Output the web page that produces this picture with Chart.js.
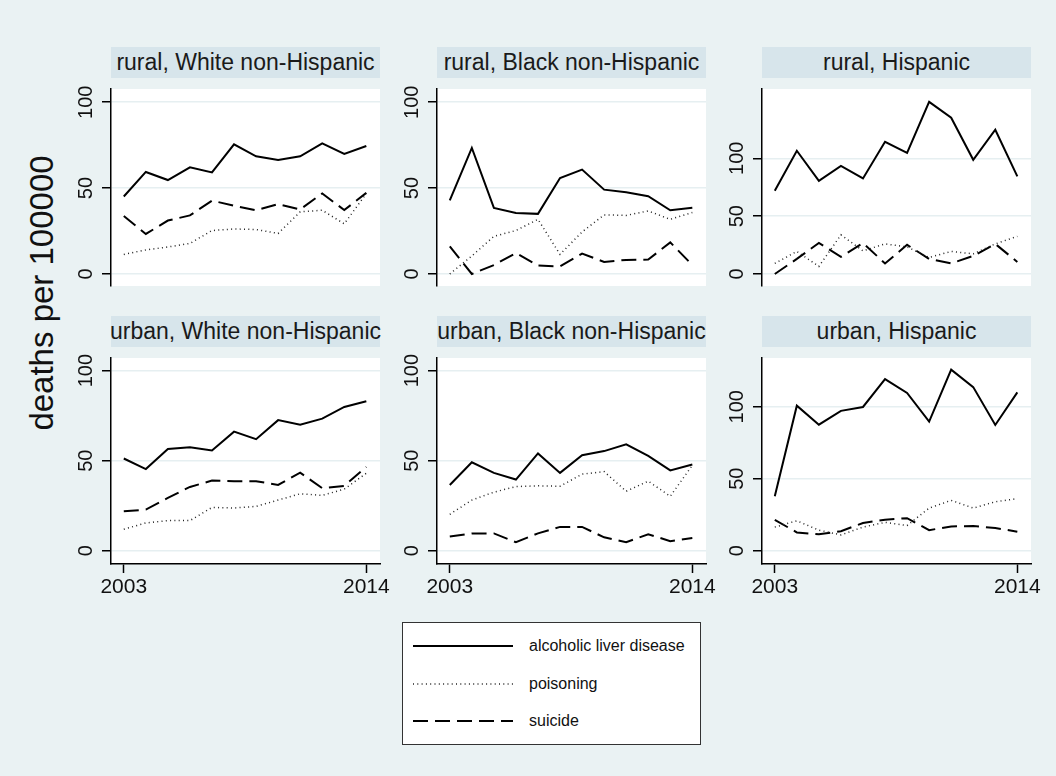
<!DOCTYPE html>
<html>
<head>
<meta charset="utf-8">
<script src="https://cdn.jsdelivr.net/npm/chart.js@4.4.0/dist/chart.umd.min.js"></script>
<style>
  html, body { margin: 0; padding: 0; }
  body { width: 1056px; height: 776px; overflow: hidden; font-family: "Liberation Sans", Arial, sans-serif; }
  #page { position: absolute; left: 0; top: 0; width: 1056px; height: 776px; background: #eaf2f3; }
  .strip { position: absolute; height: 31px; background: #d7e5eb; color: #1a1a1a;
           font-size: 23px; display: flex; justify-content: center; align-items: center; white-space: nowrap; }
  .panel { position: absolute; }
  #ytitle { position: absolute; left: 42px; top: 293px; transform: translate(-50%, -50%) rotate(-90deg);
            font-size: 33px; color: #111; white-space: nowrap; }
  #legend { position: absolute; left: 402px; top: 622px; width: 297px; height: 121px;
            border: 1.5px solid #333; background: #fff; }
  .lg-row { position: absolute; left: 0; height: 20px; }
  .lg-row svg { position: absolute; left: 10px; top: 0; }
  .lg-row span { position: absolute; left: 126px; top: 0; line-height: 20px; font-size: 16px; color: #111; white-space: nowrap; }
</style>
</head>
<body>
<div id="page">
  <div id="ytitle">deaths per 100000</div>
  <div id="legend"></div>
</div>
<script>
// Years on the x axis and the two labelled ticks
const years = [2003, 2004, 2005, 2006, 2007, 2008, 2009, 2010, 2011, 2012, 2013, 2014];
const xTickValues = [2003, 2014];
const yTickValues = [0, 50, 100];
const causes = ['alcoholic liver disease', 'poisoning', 'suicide'];
const groupTitles = [
  'rural, White non-Hispanic', 'rural, Black non-Hispanic', 'rural, Hispanic',
  'urban, White non-Hispanic', 'urban, Black non-Hispanic', 'urban, Hispanic'
];

// deaths per 100000, by cause
const ruralWhiteLiver     = [45.1, 59.4, 54.7, 62.1, 59.1, 75.5, 68.5, 66.3, 68.5, 76.0, 69.9, 74.5];
const ruralWhitePoisoning = [11.4, 14.0, 15.7, 17.8, 25.3, 26.2, 25.9, 23.6, 36.2, 37.1, 29.2, 46.9];
const ruralWhiteSuicide   = [33.7, 23.3, 31.1, 34.1, 42.7, 39.7, 37.1, 40.7, 37.6, 46.9, 37.2, 47.2];

const ruralBlackLiver     = [42.8, 73.4, 38.5, 35.5, 35.0, 55.9, 60.8, 49.1, 47.6, 45.3, 37.1, 38.5];
const ruralBlackPoisoning = [0.0, 10.5, 21.9, 25.3, 31.8, 11.4, 24.5, 34.4, 34.1, 36.7, 31.8, 35.8];
const ruralBlackSuicide   = [16.0, 0.0, 5.2, 12.2, 4.9, 4.4, 11.9, 7.0, 8.2, 8.4, 18.4, 5.2];

const ruralHispLiver      = [71.9, 106.5, 80.5, 93.5, 82.6, 114.3, 104.7, 148.8, 135.1, 98.7, 124.7, 84.4];
const ruralHispPoisoning  = [9.1, 19.5, 6.5, 33.8, 20.0, 26.0, 23.4, 14.3, 19.5, 17.4, 26.0, 32.5];
const ruralHispSuicide    = [0.0, 13.0, 26.8, 14.8, 26.8, 9.1, 25.2, 13.0, 9.1, 15.6, 26.0, 10.4];

const urbanWhiteLiver     = [51.2, 45.3, 56.5, 57.4, 55.6, 66.1, 61.9, 72.5, 70.0, 73.3, 79.8, 83.0];
const urbanWhitePoisoning = [11.9, 15.4, 16.7, 16.7, 24.0, 23.7, 24.6, 28.1, 31.6, 30.7, 34.2, 43.0];
const urbanWhiteSuicide   = [21.9, 22.8, 29.3, 35.4, 38.9, 38.6, 38.6, 36.5, 43.3, 34.7, 36.0, 46.5];

const urbanBlackLiver     = [36.5, 49.1, 43.2, 39.5, 54.0, 43.2, 53.0, 55.3, 59.1, 52.6, 44.6, 47.9];
const urbanBlackPoisoning = [20.2, 28.1, 32.5, 35.6, 36.0, 35.8, 42.5, 43.9, 33.0, 38.6, 30.2, 47.4];
const urbanBlackSuicide   = [7.9, 9.6, 9.6, 4.7, 9.6, 13.2, 13.2, 7.4, 4.7, 9.1, 5.3, 7.0];

const urbanHispLiver      = [37.8, 100.7, 87.5, 97.1, 99.8, 119.1, 109.5, 89.7, 125.7, 113.6, 87.3, 109.9];
const urbanHispPoisoning  = [16.4, 20.8, 14.3, 11.0, 16.4, 19.7, 17.5, 29.6, 35.0, 29.6, 34.0, 36.2];
const urbanHispSuicide    = [21.5, 12.7, 11.4, 13.6, 19.3, 21.5, 22.6, 14.3, 16.9, 17.1, 15.8, 13.2];

// Line look for each cause (solid, dotted, dashed)
const lineStyles = [
  { color: '#000', width: 2, dash: [] },
  { color: '#222', width: 1.5, dash: [1, 3.3] },
  { color: '#000', width: 2, dash: [15, 7] }
];

// Panel grid geometry and per-panel y ranges
const colLeft = [111, 437, 762];
const rowTop = [78, 347];
const plotW = 269;
const rowPlotH = [219, 217];
const yRanges = [
  [-7.0, 107.7], [-7.0, 107.7], [-10.4, 159.9],
  [-7.4, 107.0], [-7.4, 107.0], [-9.2, 133.8]
];
const xRange = [2002.42, 2014.62];

const panelSeries = [
  [ruralWhiteLiver, ruralWhitePoisoning, ruralWhiteSuicide],
  [ruralBlackLiver, ruralBlackPoisoning, ruralBlackSuicide],
  [ruralHispLiver, ruralHispPoisoning, ruralHispSuicide],
  [urbanWhiteLiver, urbanWhitePoisoning, urbanWhiteSuicide],
  [urbanBlackLiver, urbanBlackPoisoning, urbanBlackSuicide],
  [urbanHispLiver, urbanHispPoisoning, urbanHispSuicide]
];

const page = document.getElementById('page');
const FONT = '"Liberation Sans", Arial, sans-serif';

// white plot region behind the lines
const plotBackground = {
  id: 'plotBackground',
  beforeDraw(chart) {
    const { ctx, chartArea: a } = chart;
    ctx.save();
    ctx.fillStyle = '#ffffff';
    ctx.fillRect(a.left, a.top, a.right - a.left, a.bottom - a.top);
    ctx.restore();
  }
};

const AXIS_W = 60, RIGHT_PAD = 40, XAXIS_H = 40;

panelSeries.forEach((series, p) => {
  const row = Math.floor(p / 3), col = p % 3;
  const showX = row === 1;
  const plotH = rowPlotH[row];
  const left = colLeft[col], top = rowTop[row];

  // subtitle strip
  const strip = document.createElement('div');
  strip.className = 'strip';
  strip.style.left = left + 'px';
  strip.style.top = (top - 31) + 'px';
  strip.style.width = plotW + 'px';
  strip.textContent = groupTitles[p];
  page.appendChild(strip);

  const W = AXIS_W + plotW + RIGHT_PAD;
  const H = plotH + (showX ? XAXIS_H : 0);
  const canvas = document.createElement('canvas');
  canvas.className = 'panel';
  canvas.width = W; canvas.height = H;
  canvas.style.left = (left - AXIS_W) + 'px';
  canvas.style.top = top + 'px';
  canvas.style.width = W + 'px';
  canvas.style.height = H + 'px';
  page.appendChild(canvas);

  const datasets = series.map((vals, k) => ({
    label: causes[k],
    data: years.map((yr, i) => ({ x: yr, y: vals[i] })),
    borderColor: lineStyles[k].color,
    borderWidth: lineStyles[k].width,
    borderDash: lineStyles[k].dash,
    borderCapStyle: 'butt',
    pointRadius: 0,
    tension: 0,
    fill: false
  }));

  const xScale = {
    type: 'linear',
    min: xRange[0], max: xRange[1],
    display: showX,
    afterBuildTicks: s => { s.ticks = xTickValues.map(v => ({ value: v })); },
    ticks: { callback: v => String(v), color: '#111', font: { family: FONT, size: 21 }, padding: 2, maxRotation: 0, autoSkip: false },
    grid: { drawOnChartArea: false, drawTicks: true, tickLength: 9, tickColor: '#000', tickWidth: 1.5 },
    border: { display: true, color: '#000', width: 1.5 }
  };
  if (showX) xScale.afterFit = s => { s.height = XAXIS_H; };

  new Chart(canvas, {
    type: 'line',
    data: { datasets },
    options: {
      responsive: false,
      animation: false,
      devicePixelRatio: 1,
      events: [],
      layout: { autoPadding: false, padding: { left: 0, right: RIGHT_PAD, top: 0, bottom: 0 } },
      plugins: { legend: { display: false }, tooltip: { enabled: false }, title: { display: false } },
      scales: {
        x: xScale,
        y: {
          type: 'linear',
          min: yRanges[p][0], max: yRanges[p][1],
          afterBuildTicks: s => { s.ticks = yTickValues.map(v => ({ value: v })); },
          afterFit: s => { s.width = AXIS_W; },
          ticks: { callback: v => String(v), color: '#111', font: { family: FONT, size: 20 },
                   minRotation: 90, maxRotation: 90, crossAlign: 'center', padding: -1 },
          grid: { color: '#e6eff1', lineWidth: 1.5, drawTicks: true, tickLength: 9, tickColor: '#000', tickWidth: 1.5 },
          border: { display: true, color: '#000', width: 1.5 }
        }
      }
    },
    plugins: [plotBackground]
  });
});

// legend box
const legend = document.getElementById('legend');
const legendRowY = [22.5, 61, 98];
causes.forEach((name, k) => {
  const rowEl = document.createElement('div');
  rowEl.className = 'lg-row';
  rowEl.style.top = (legendRowY[k] - 10) + 'px';
  rowEl.style.width = '290px';
  const st = lineStyles[k];
  const svgNS = 'http://www.w3.org/2000/svg';
  const svg = document.createElementNS(svgNS, 'svg');
  svg.setAttribute('width', '101');
  svg.setAttribute('height', '20');
  const ln = document.createElementNS(svgNS, 'line');
  ln.setAttribute('x1', '0'); ln.setAttribute('x2', '100');
  ln.setAttribute('y1', '10'); ln.setAttribute('y2', '10');
  ln.setAttribute('stroke', st.color);
  ln.setAttribute('stroke-width', st.width);
  if (st.dash.length) ln.setAttribute('stroke-dasharray', st.dash.join(' '));
  svg.appendChild(ln);
  rowEl.appendChild(svg);
  const txt = document.createElement('span');
  txt.textContent = name;
  rowEl.appendChild(txt);
  legend.appendChild(rowEl);
});
</script>
</body>
</html>
